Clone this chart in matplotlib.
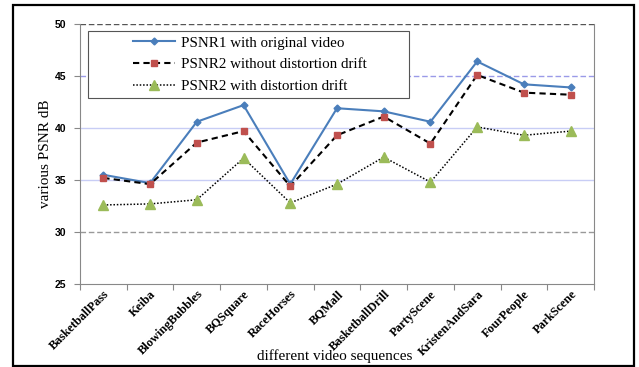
import matplotlib.pyplot as plt
from matplotlib.patches import Rectangle

# --------------------------------------------------
# PSNR per test sequence
# --------------------------------------------------

sequences = ["BasketballPass", "Keiba", "BlowingBubbles", "BQSquare", "RaceHorses",
             "BQMall", "BasketballDrill", "PartyScene", "KristenAndSara",
             "FourPeople", "ParkScene"]

psnr1_original = [35.5, 34.7, 40.6, 42.2, 34.6, 41.9, 41.6, 40.6, 46.4, 44.2, 43.9]
psnr2_no_drift = [35.2, 34.6, 38.6, 39.7, 34.4, 39.3, 41.1, 38.5, 45.1, 43.4, 43.2]
psnr2_drift = [32.6, 32.7, 33.1, 37.1, 32.8, 34.6, 37.2, 34.8, 40.1, 39.3, 39.7]

labels = ["PSNR1 with original video",
          "PSNR2 without distortion drift",
          "PSNR2 with distortion drift"]

yticks = [25, 30, 35, 40, 45, 50]

W, H = 639, 367


def main():

    fig = plt.figure(figsize=(W / 100, H / 100), dpi=100)
    ax = fig.add_axes([80 / W, 1 - 284 / H, 514 / W, 260 / H])

    # outer frame around the whole chart
    fig.patches.append(Rectangle((13 / W, 1 / H), 621 / W, 361 / H,
                                 transform=fig.transFigure, fill=False,
                                 edgecolor="black", linewidth=1.6))

    x = list(range(len(sequences)))

    ax.plot(x, psnr1_original, color="#4a7ebb", linewidth=1.5, marker="D",
            markersize=3.5, markerfacecolor="#4a7ebb", label=labels[0], zorder=3)
    ax.plot(x, psnr2_no_drift, color="black", linewidth=1.5, linestyle=(0, (3, 2)),
            marker="s", markersize=5, markerfacecolor="#c0504d",
            markeredgecolor="#c0504d", label=labels[1], zorder=4)
    ax.plot(x, psnr2_drift, color="black", linewidth=1.1, linestyle=(0, (1, 1.2)),
            marker="^", markersize=7, markerfacecolor="#9bbb59",
            markeredgecolor="#9bbb59", label=labels[2], zorder=5)

    # horizontal reference lines
    ax.axhline(50, color="#555555", linewidth=1, linestyle=(0, (4, 2)), zorder=1)
    ax.axhline(45, color="#9a9ae8", linewidth=1, linestyle=(0, (4, 2)), zorder=1)
    ax.axhline(40, color="#c8cdf5", linewidth=1, zorder=1)
    ax.axhline(35, color="#c8cdf5", linewidth=1, zorder=1)
    ax.axhline(30, color="#999999", linewidth=1, linestyle=(0, (4, 2)), zorder=1)

    ax.set_xlim(-0.5, len(sequences) - 0.5)
    ax.set_ylim(25, 50)

    ax.set_yticks(yticks)
    ax.set_yticklabels([str(v) for v in yticks], fontsize=7.5, fontweight="bold",
                       family="Liberation Sans")

    # category ticks sit between the sequences, labels at their centres
    ax.set_xticks([i - 0.5 for i in range(len(sequences) + 1)])
    ax.set_xticklabels([])
    ax.set_xticks(x, minor=True)
    ax.set_xticklabels(sequences, minor=True, rotation=45, ha="right",
                       rotation_mode="anchor", fontsize=8.8, fontweight="bold",
                       family="Liberation Serif")
    ax.tick_params(axis="x", which="minor", length=0, pad=3)
    ax.tick_params(axis="x", which="major", length=4, color="#888888", direction="out")
    ax.tick_params(axis="y", length=4, color="#888888", pad=6)

    for side in ["left", "bottom", "right"]:
        ax.spines[side].set_color("#888888")
    ax.spines["top"].set_visible(False)

    ax.set_ylabel("various PSNR dB", fontsize=11, family="Liberation Serif", labelpad=2)
    fig.text(335 / W, 1 - 356 / H, "different video sequences", fontsize=11,
             family="Liberation Serif", ha="center", va="center")

    # legend box is wider than its entries
    fig.patches.append(Rectangle((88 / W, 1 - 98 / H), 321 / W, 67 / H,
                                 transform=fig.transFigure, fill=True,
                                 facecolor="white", edgecolor="#555555",
                                 linewidth=0.8, zorder=6))
    leg = fig.legend(loc="upper left", bbox_to_anchor=(133 / W, 1 - 36 / H),
                     prop={"family": "Liberation Serif", "size": 10.8},
                     frameon=False, handlelength=2.8, handletextpad=0.4,
                     borderpad=0, labelspacing=0.55, borderaxespad=0)
    leg.set_zorder(7)

    fig.savefig("out.png", dpi=100)


if __name__ == "__main__":
    main()
